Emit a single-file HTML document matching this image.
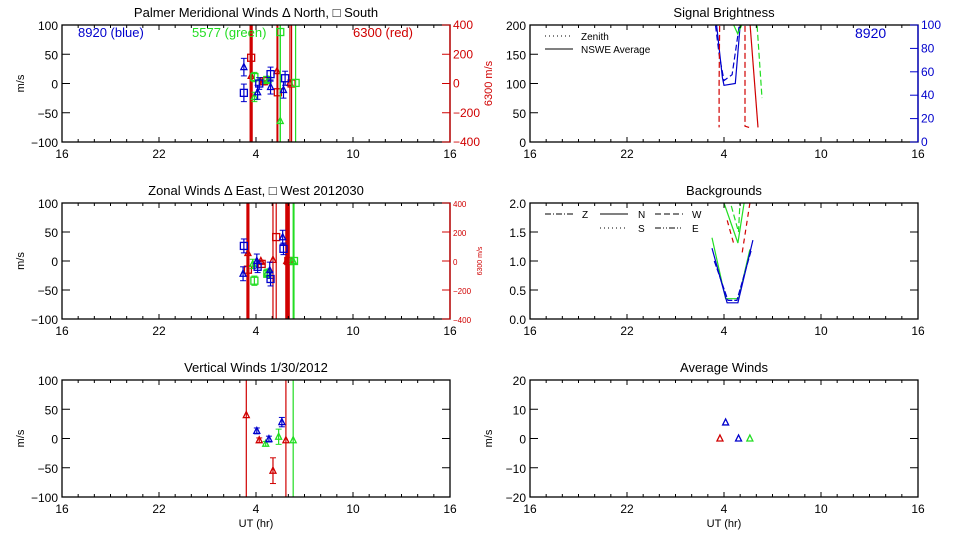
<!DOCTYPE html>
<html><head><meta charset="utf-8">
<style>
html,body{margin:0;padding:0;background:#fff;overflow:hidden;width:960px;height:540px;}
svg{display:block;font-family:"Liberation Sans",sans-serif;}
</style></head>
<body>
<svg id="chart" width="960" height="540" viewBox="0 0 960 540" font-size="12"></svg>
<script>
// ---------- data ----------
const xTickLabels = ["16","22","4","10","16"];
const xTickHours = [16,22,28,34,40];
// Panel 1: meridional (left axis m/s; red on right axis ±400)
const merBlueNHr=[27.25,28.1,28.9,29.7], merBlueNVal=[28,-15,-6,-11], merBlueNErr=[15,12,12,14];
const merBlueSHr=[27.25,28.2,28.9,29.8], merBlueSVal=[-16,0,16,9], merBlueSErr=[15,10,12,12];
const merGreenNHr=[27.9,28.75,29.5], merGreenNVal=[-23,6,-64], merGreenNErr=[8,6,900];
const merGreenSHr=[27.9,28.7,29.5,30.45], merGreenSVal=[11,6,88,1], merGreenSErr=[8,6,900,900];
const merRedNHr=[27.7,28.4,29.3,30.1], merRedNVal=[52,8,85,4], merRedNErr=[4000,6,4000,4000];
const merRedSHr=[27.7,28.5,29.35,30.2], merRedSVal=[176,16,-60,0], merRedSErr=[4000,6,4000,4000];
// Panel 2: zonal
const zonBlueEHr=[27.2,28.05,28.85,29.65], zonBlueEVal=[-22,0,-16,41], zonBlueEErr=[12,12,14,12];
const zonBlueWHr=[27.25,28.1,28.9,29.7], zonBlueWVal=[26,-10,-31,21], zonBlueWErr=[12,10,12,10];
const zonGreenEHr=[27.8,28.7,30.3], zonGreenEVal=[-5,-20,0], zonGreenEErr=[8,6,900];
const zonGreenWHr=[27.9,28.7,30.35], zonGreenWVal=[-34,-22,0], zonGreenWErr=[8,5,900];
const zonRedEHr=[27.5,28.3,29.05,29.9], zonRedEVal=[55,0,8,0], zonRedEErr=[4000,5,4000,4000];
const zonRedWHr=[27.5,28.35,29.25,30.0], zonRedWVal=[-60,-20,165,0], zonRedWErr=[4000,5,4000,4000];
// Panel 3: vertical
const verRedHr=[27.4,28.2,29.05,29.85], verRedVal=[40,-3,-55,-3], verRedErr=[900,4,22,900];
const verBlueHr=[28.05,28.8,29.6], verBlueVal=[13,-1,28], verBlueErr=[5,5,8];
const verGreenHr=[28.6,29.4,30.3], verGreenVal=[-9,3,-3], verGreenErr=[4,13,900];
// Panel 4: signal brightness
const sigBlueSolidHr=[27.3,27.9,28.0,28.7,29.0,29.3], sigBlueSolidVal=[260,110,97,100,200,260];
const sigBlueDashHr=[27.2,27.7,28.0,28.5,28.9,29.2], sigBlueDashVal=[260,150,105,115,190,260];
const sigRedDashHr=[27.75,27.7,27.7], sigRedDashVal=[260,100,25];
const sigRedDash2Hr=[29.3,29.3,29.55], sigRedDash2Val=[260,27,25];
const sigRedSolidHr=[29.45,30.1], sigRedSolidVal=[260,25];
const sigGreenDashHr=[29.9,30.35], sigGreenDashVal=[260,75];
const sigGreenTopHr=[28.6,28.85,29.1], sigGreenTopVal=[200,185,200];
// Panel 5: backgrounds
const bgBlueHr=[27.26,28.19,28.86,29.79], bgBlueVal=[1.22,0.28,0.28,1.36];
const bgBlue2Hr=[27.4,28.25,28.8,29.7], bgBlue2Val=[1.0,0.32,0.32,1.2];
const bgGreenHr=[27.26,28.1,28.9,29.6], bgGreenVal=[1.4,0.35,0.35,1.2];
const bgGreenTopHr=[28.0,28.86,29.3], bgGreenTopVal=[2.0,1.31,2.1];
const bgGreenTop2Hr=[28.3,28.9,29.0], bgGreenTop2Val=[2.1,1.5,2.1];
const bgRedHr=[29.6,29.1], bgRedVal=[2.0,1.1];
const bgRed2Hr=[28.2,28.6], bgRed2Val=[1.7,1.3];
// Panel 6: average winds
const avgHr=[27.75,28.1,28.9,29.6], avgVal=[0,5.5,0,0], avgColor=["#d00000","#0000cc","#0000cc","#22dd22"];

// ---------- helpers ----------
const svg=document.getElementById('chart');
const NS="http://www.w3.org/2000/svg";
const RED="#d00000", BLUE="#0000cc", GREEN="#22dd22";
function mk(tag,attrs,parent){const e=document.createElementNS(NS,tag);for(const k in attrs)e.setAttribute(k,attrs[k]);(parent||svg).appendChild(e);return e;}
function txt(s,x,y,opts,parent){const t=mk('text',Object.assign({x:x,y:y},opts||{}),parent);t.textContent=s;return t;}
let clipN=0;
function panel(name,L,T,R,B,ymin,ymax){
  const p={L,T,R,B,ymin,ymax,name};
  p.x=h=>L+(h-16)/24*(R-L);
  p.y=v=>B-(v-ymin)/(ymax-ymin)*(B-T);
  const g=mk('g',{});
  
  
  const id='clip'+(clipN++);
  const cp=mk('clipPath',{id:id},g);mk('rect',{x:L,y:T,width:R-L,height:B-T},cp);
  p.g=g;p.clip=mk('g',{'clip-path':'url(#'+id+')'},g);
  return p;
}
function frame(p,yticks,ylab,fmt,rightBox){
  const g=p.g;
  mk('rect',{x:p.L,y:p.T,width:p.R-p.L,height:p.B-p.T,fill:'none',stroke:'#000','stroke-width':1.3},g);
  for(let h=16;h<=40;h++){const x=p.x(h);const len=(h%6==4)?5:3;
    mk('line',{x1:x,y1:p.B,x2:x,y2:p.B-len,stroke:'#000'},g);mk('line',{x1:x,y1:p.T,x2:x,y2:p.T+len,stroke:'#000'},g);}
  xTickHours.forEach((h,i)=>{const t=txt(xTickLabels[i],p.x(h),p.B+16,{'text-anchor':'middle'},g);
    
    });
  yticks.forEach(v=>{const y=p.y(v);mk('line',{x1:p.L,y1:y,x2:p.L+8,y2:y,stroke:'#000'},g);
    if(!rightBox)mk('line',{x1:p.R,y1:y,x2:p.R-8,y2:y,stroke:'#000'},g);
    const t=txt(fmt(v),p.L-4,y+5,{'text-anchor':'end'},g);
    
    });
  if(ylab){const yl=txt(ylab,0,0,{'text-anchor':'middle',transform:`translate(${p.L-38},${(p.T+p.B)/2}) rotate(-90)`,'font-size':11},g);
  
  }
}
function title(p,s){const t=txt(s,(p.L+p.R)/2,p.T-8,{'text-anchor':'middle','font-size':13},p.g);
  
  }
function tri(p,h,v,c,g){const x=p.x(h),y=p.y(v);return mk('path',{d:`M${x-3},${y+2.5}L${x+3},${y+2.5}L${x},${y-3.5}Z`,fill:'none',stroke:c,'stroke-width':1.3},g);}
function sq(p,h,v,c,g){const x=p.x(h),y=p.y(v);return mk('rect',{x:x-3.5,y:y-3.5,width:7,height:7,fill:'none',stroke:c,'stroke-width':1.3},g);}
function series(p,hrs,vals,errs,col,shape,scale,thickIdx){
  scale=scale||1;thickIdx=thickIdx||[];
  hrs.forEach((h,i)=>{
    const v=vals[i]/scale,e=errs[i]/scale,x=p.x(h);
    const g=mk('g',{},p.clip);
    
    
    const big=errs[i]>=900;
    mk('line',{x1:x,y1:p.y(v-e),x2:x,y2:p.y(v+e),stroke:col,'stroke-width':thickIdx.includes(i)?3:1.2},g);
    if(!big){mk('line',{x1:x-3,y1:p.y(v-e),x2:x+3,y2:p.y(v-e),stroke:col},g);mk('line',{x1:x-3,y1:p.y(v+e),x2:x+3,y2:p.y(v+e),stroke:col},g);}
    (shape=='t'?tri:sq)(p,h,v,col,g);
  });
}
function line(p,hrs,vals,col,dash,name){
  const d=hrs.map((h,i)=>(i?'L':'M')+p.x(h).toFixed(1)+','+p.y(vals[i]).toFixed(1)).join('');
  const e=mk('path',{d:d,fill:'none',stroke:col,'stroke-width':1.2,'stroke-dasharray':dash||'none'},p.clip);
  
  
}
const f0=v=>String(v).replace('-','\u2212');
const f1=v=>v.toFixed(1);

// ---------- Panel 1 ----------
const p1=panel('meridional-winds-panel',62,25,450,142,-100,100);
frame(p1,[-100,-50,0,50,100],'m/s',f0,true);
title(p1,'Palmer Meridional Winds \u0394 North, \u25a1 South');
[["8920 (blue)",78,BLUE],["5577 (green)",192,GREEN],["6300 (red)",353,RED]].forEach(a=>{const t=txt(a[0],a[1],37,{fill:a[2],'font-size':13},p1.g);
  
  });
function rightAxis(p,vals,lab,fs){
  mk('line',{x1:p.R,y1:p.T,x2:p.R,y2:p.B,stroke:RED,'stroke-width':1.3},p.g);
  vals.forEach(v=>{const y=p.B-(v+400)/800*(p.B-p.T);mk('line',{x1:p.R,y1:y,x2:p.R-8,y2:y,stroke:RED},p.g);
    const t=txt(f0(v),p.R+3,y+4,{fill:RED,'font-size':fs},p.g);
    
    });
  const t=txt(lab,0,0,{fill:RED,'text-anchor':'middle','font-size':fs-1,transform:`translate(${p.R+(fs>10?42:32)},${(p.T+p.B)/2}) rotate(-90)`},p.g);
  
  
}
rightAxis(p1,[-400,-200,0,200,400],'6300 m/s',12);
series(p1,merRedNHr,merRedNVal,merRedNErr,RED,'t',4,[0]);
series(p1,merRedSHr,merRedSVal,merRedSErr,RED,'s',4,[0]);
series(p1,merGreenNHr,merGreenNVal,merGreenNErr,GREEN,'t');
series(p1,merGreenSHr,merGreenSVal,merGreenSErr,GREEN,'s');
series(p1,merBlueNHr,merBlueNVal,merBlueNErr,BLUE,'t');
series(p1,merBlueSHr,merBlueSVal,merBlueSErr,BLUE,'s');

// ---------- Panel 2 ----------
const p2=panel('zonal-winds-panel',62,203,450,319,-100,100);
frame(p2,[-100,-50,0,50,100],'m/s',f0,true);
title(p2,'Zonal Winds \u0394 East, \u25a1 West 2012030');
rightAxis(p2,[-400,-200,0,200,400],'6300 m/s',8);
series(p2,zonRedEHr,zonRedEVal,zonRedEErr,RED,'t',4,[0,3]);
series(p2,zonRedWHr,zonRedWVal,zonRedWErr,RED,'s',4,[0,3]);
series(p2,zonGreenEHr,zonGreenEVal,zonGreenEErr,GREEN,'t');
series(p2,zonGreenWHr,zonGreenWVal,zonGreenWErr,GREEN,'s');
series(p2,zonBlueEHr,zonBlueEVal,zonBlueEErr,BLUE,'t');
series(p2,zonBlueWHr,zonBlueWVal,zonBlueWErr,BLUE,'s');

// ---------- Panel 3 ----------
const p3=panel('vertical-winds-panel',62,380,450,497,-100,100);
frame(p3,[-100,-50,0,50,100],'m/s',f0,false);
title(p3,'Vertical Winds 1/30/2012');
series(p3,verRedHr,verRedVal,verRedErr,RED,'t');
series(p3,verGreenHr,verGreenVal,verGreenErr,GREEN,'t');
series(p3,verBlueHr,verBlueVal,verBlueErr,BLUE,'t');
{const t=txt('UT (hr)',256,527,{'text-anchor':'middle','font-size':11},p3.g);}

// ---------- Panel 4 ----------
const p4=panel('signal-brightness-panel',530,25,918,142,0,200);
frame(p4,[0,50,100,150,200],'',f0,true);
title(p4,'Signal Brightness');
mk('line',{x1:p4.R,y1:p4.T,x2:p4.R,y2:p4.B,stroke:BLUE,'stroke-width':1.3},p4.g);
[0,20,40,60,80,100].forEach(v=>{const y=p4.B-v/100*(p4.B-p4.T);mk('line',{x1:p4.R,y1:y,x2:p4.R-8,y2:y,stroke:BLUE},p4.g);
  const t=txt(String(v),p4.R+3,y+4,{fill:BLUE},p4.g);});
{const t=txt('8920',855,38,{fill:BLUE,'font-size':14},p4.g);}
mk('line',{x1:545,y1:36,x2:573,y2:36,stroke:'#000','stroke-dasharray':'1,3'},p4.g);
mk('line',{x1:545,y1:49,x2:573,y2:49,stroke:'#000'},p4.g);
{let t=txt('Zenith',581,40,{'font-size':10},p4.g);
 t=txt('NSWE Average',581,53,{'font-size':10},p4.g);}
line(p4,sigBlueSolidHr,sigBlueSolidVal,BLUE,'','blue-avg-line');
line(p4,sigBlueDashHr,sigBlueDashVal,BLUE,'6,3','blue-zenith-line');
line(p4,sigRedDashHr,sigRedDashVal,RED,'6,3','red-zenith-line');
line(p4,sigRedDash2Hr,sigRedDash2Val,RED,'6,3','red-zenith-line-2');
line(p4,sigRedSolidHr,sigRedSolidVal,RED,'','red-avg-line');
line(p4,sigGreenDashHr,sigGreenDashVal,GREEN,'6,3','green-zenith-line');
line(p4,sigGreenTopHr,sigGreenTopVal,GREEN,'','green-avg-line');

// ---------- Panel 5 ----------
const p5=panel('backgrounds-panel',530,203,918,319,0,2);
frame(p5,[0,0.5,1,1.5,2],'',f1,false);
title(p5,'Backgrounds');
[[545,214,'6,2,1,2','Z',582],[600,214,'','N',638],[655,214,'6,3','W',692],[600,228,'1,3','S',638],[655,228,'6,2,1,2,1,2','E',692]].forEach(a=>{
  mk('line',{x1:a[0],y1:a[1],x2:a[0]+28,y2:a[1],stroke:'#000','stroke-dasharray':a[2]||'none'},p5.g);
  const t=txt(a[3],a[4],a[1]+4,{'font-size':10},p5.g);});
line(p5,bgGreenHr,bgGreenVal,GREEN,'','green-bg-line');
line(p5,bgGreenTopHr,bgGreenTopVal,GREEN,'','green-bg-top-line');
line(p5,bgGreenTop2Hr,bgGreenTop2Val,GREEN,'6,3','green-bg-top-line-2');
line(p5,bgRedHr,bgRedVal,RED,'5,4','red-bg-line');
line(p5,bgRed2Hr,bgRed2Val,RED,'5,4','red-bg-line-2');
line(p5,bgBlueHr,bgBlueVal,BLUE,'','blue-bg-line');
line(p5,bgBlue2Hr,bgBlue2Val,BLUE,'6,2','blue-bg-line-2');

// ---------- Panel 6 ----------
const p6=panel('average-winds-panel',530,380,918,497,-20,20);
frame(p6,[-20,-10,0,10,20],'m/s',f0,false);
title(p6,'Average Winds');
avgHr.forEach((h,i)=>{const e=tri(p6,h,avgVal[i],avgColor[i],p6.clip);});
{const t=txt('UT (hr)',724,527,{'text-anchor':'middle','font-size':11},p6.g);}
</script>
</body></html>
